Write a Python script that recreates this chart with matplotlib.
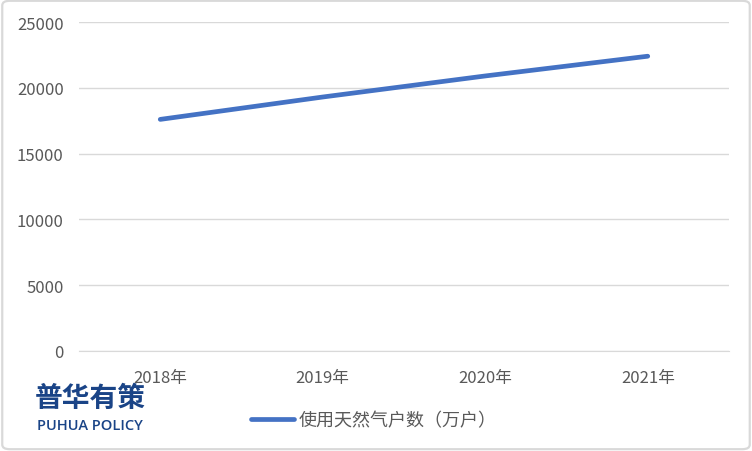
import matplotlib.pyplot as plt
from matplotlib.patches import FancyBboxPatch

plt.rcParams['font.family'] = ['Noto Sans CJK SC', 'DejaVu Sans']

years = ["2018年", "2019年", "2020年", "2021年"]
users = [17600, 19300, 20900, 22400]
series_name = "使用天然气户数（万户）"
yticks = [0, 5000, 10000, 15000, 20000, 25000]

fig = plt.figure(figsize=(7.52, 4.52), dpi=100)
ax = fig.add_axes([79 / 752, 1 - 352 / 452, 650 / 752, 329 / 452])

x = range(len(years))
line, = ax.plot(x, users, color="#4472C4", linewidth=3.4, solid_capstyle="round",
                label=series_name)
ax.set_xlim(-0.5, len(years) - 0.5)
ax.set_ylim(0, 25000)
ax.set_yticks(yticks)
ax.set_xticks(list(x))
ax.set_xticklabels(years)
ax.grid(axis="y", color="#D9D9D9", linewidth=1)
ax.set_axisbelow(True)
for s in ["top", "right", "left"]:
    ax.spines[s].set_visible(False)
ax.spines["bottom"].set_color("#D9D9D9")
ax.tick_params(length=0, labelsize=12, colors="#595959")
ax.tick_params(axis="y", pad=11)
ax.tick_params(axis="x", pad=13)

leg = fig.legend(handles=[line], loc="center", bbox_to_anchor=(374 / 752, 1 - 421 / 452),
                 frameon=False, fontsize=13, handlelength=2.4, handletextpad=0.25)
for t in leg.get_texts():
    t.set_color("#595959")

# border
fig.patches.append(FancyBboxPatch((0.003, 0.004), 0.994, 0.992, boxstyle="round,pad=0,rounding_size=0.01",
                                  transform=fig.transFigure, fill=False, edgecolor="#D9D9D9", linewidth=1.6))

# logo
fig.text(90 / 752, 1 - 399 / 452, "普华有策", fontsize=20, fontweight="bold", color="#1A4487",
         ha="center", va="center")
fig.text(90 / 752, 1 - 426 / 452, "PUHUA POLICY", fontsize=10.5, color="#1A4487",
         ha="center", va="center", family=["Open Sans", "DejaVu Sans"], fontweight="semibold")

fig.savefig("out.png", dpi=100)
